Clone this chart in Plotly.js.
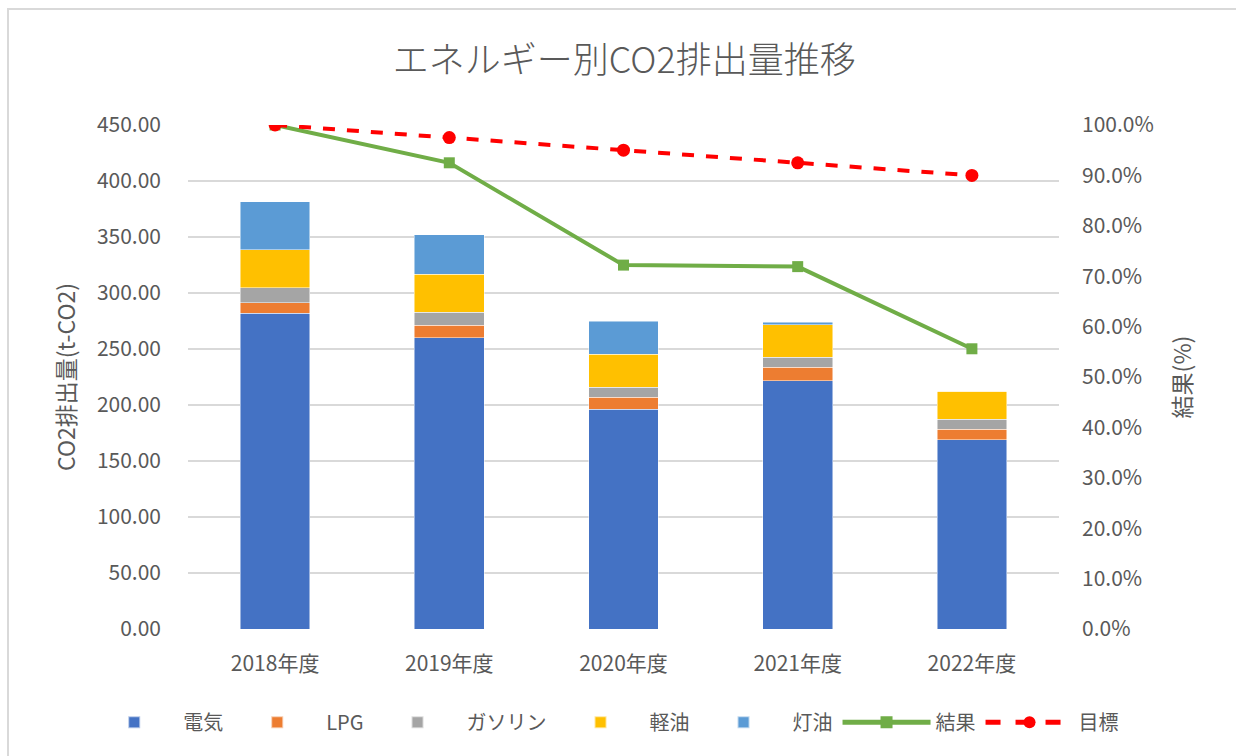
<!DOCTYPE html>
<html>
<head>
<meta charset="utf-8">
<script src="https://cdn.plot.ly/plotly-3.0.1.min.js"></script>
<style>
  body { margin: 0; background: #ffffff; }
  #frame { position: absolute; left: 7px; top: 8px; width: 1240px; height: 760px; border: 2px solid #d9d9d9; box-sizing: border-box; }
  #chart { position: absolute; left: 0; top: 0; width: 1236px; height: 756px; }
</style>
</head>
<body>
<div id="frame"></div>
<div id="chart"></div>
<script>
const categories = ["2018年度", "2019年度", "2020年度", "2021年度", "2022年度"];
const denki    = [282.0, 260.1, 196.2, 221.7, 169.0];
const lpg      = [9.4, 11.3, 10.7, 12.0, 9.3];
const gasoline = [13.4, 11.4, 8.9, 8.9, 8.9];
const keiyu    = [33.7, 33.9, 29.7, 29.1, 25.3];
const touyu    = [42.9, 35.3, 29.5, 2.4, 0];
const kekka    = [1.000, 0.925, 0.722, 0.719, 0.556];
const mokuhyo  = [1.000, 0.975, 0.950, 0.925, 0.900];

const FONT = '"Noto Sans CJK JP", "Noto Sans", sans-serif';
const TXT = '#595959';
const segLine = {color: 'rgba(255,255,255,0.6)', width: 0.8};

const traces = [
  {type: 'bar', name: '電気', x: categories, y: denki, marker: {color: '#4472C4', line: segLine}},
  {type: 'bar', name: 'LPG', x: categories, y: lpg, marker: {color: '#ED7D31', line: segLine}},
  {type: 'bar', name: 'ガソリン', x: categories, y: gasoline, marker: {color: '#A5A5A5', line: segLine}},
  {type: 'bar', name: '軽油', x: categories, y: keiyu, marker: {color: '#FFC000', line: segLine}},
  {type: 'bar', name: '灯油', x: categories, y: touyu, marker: {color: '#5B9BD5', line: segLine}},
  {type: 'scatter', mode: 'lines+markers', name: '結果', x: categories, y: kekka, yaxis: 'y2',
   line: {color: '#70AD47', width: 4}, marker: {symbol: 'square', size: 11, color: '#70AD47'}},
  {type: 'scatter', mode: 'lines+markers', name: '目標', x: categories, y: mokuhyo, yaxis: 'y2',
   line: {color: '#FF0000', width: 4, dash: 'dash'}, marker: {symbol: 'circle', size: 13, color: '#FF0000'}}
];

const layout = {
  width: 1236, height: 756,
  paper_bgcolor: 'rgba(0,0,0,0)', plot_bgcolor: 'rgba(0,0,0,0)',
  margin: {l: 188, r: 177, t: 125, b: 127},
  barmode: 'stack', bargap: 0.6,
  font: {family: FONT, color: TXT, size: 20},
  title: {text: 'エネルギー別CO2排出量推移', x: 0.505, xanchor: 'center', y: 0.92, yanchor: 'middle',
          font: {family: FONT, size: 36, color: TXT, weight: 300}},
  showlegend: true,
  legend: {orientation: 'h', x: -0.118, xanchor: 'left', y: -0.185, yanchor: 'middle',
           font: {family: FONT, size: 20, color: TXT}, traceorder: 'normal', itemwidth: 88,
           itemsizing: 'constant'},
  xaxis: {type: 'category', showgrid: false, zeroline: false, showline: false, ticks: '',
          tickfont: {family: FONT, size: 21, color: TXT}, ticklabelstandoff: 20},
  yaxis: {range: [0, 450], dtick: 50, tickformat: '.2f', showgrid: true, gridcolor: '#d9d9d9', gridwidth: 1.3,
          zeroline: false, showline: false, ticks: '',
          tickfont: {family: FONT, size: 21, color: TXT}, ticklabelstandoff: 26,
          title: {text: 'CO2排出量(t-CO2)', standoff: 14, font: {family: FONT, size: 23, color: TXT}}},
  yaxis2: {overlaying: 'y', side: 'right', range: [0, 1], dtick: 0.1, tickformat: '.1%', showgrid: false,
           zeroline: false, showline: false, ticks: '', tickfont: {family: FONT, size: 21, color: TXT},
           ticklabelstandoff: 22,
           title: {text: '結果(%)', standoff: 22, font: {family: FONT, size: 23, color: TXT}}}
};

Plotly.newPlot('chart', traces, layout, {displayModeBar: false, staticPlot: true});
</script>
</body>
</html>
